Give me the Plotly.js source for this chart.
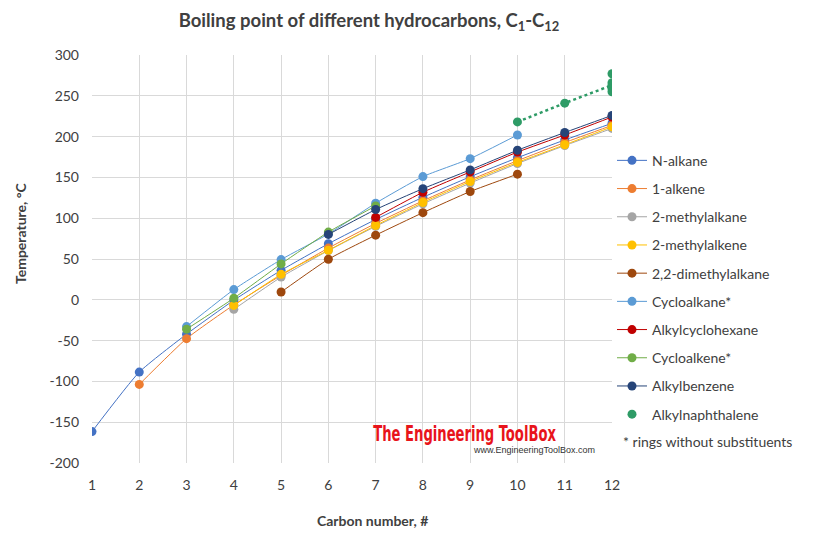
<!DOCTYPE html>
<html><head><meta charset="utf-8">
<script src="https://cdn.plot.ly/plotly-3.0.1.min.js"></script>
<style>html,body{margin:0;padding:0;background:#fff}</style>
</head><body><div id="chart" style="width:833px;height:535px"></div>
<script>
const carbonNumbers = [1,2,3,4,5,6,7,8,9,10,11,12];
const xTickLabels = ['1','2','3','4','5','6','7','8','9','10','11','12'];
const yTickValues = [-200,-150,-100,-50,0,50,100,150,200,250,300];
const yTickLabels = ['-200','-150','-100','-50','0','50','100','150','200','250','300'];

const nAlkaneX = [1,2,3,4,5,6,7,8,9,10,11,12];
const nAlkaneY = [-161.5,-88.6,-42.1,-0.5,36.1,68.7,98.4,125.6,150.8,174.1,195.9,216.3];
const alkeneX = [2,3,4,5,6,7,8,9,10,11,12];
const alkeneY = [-103.7,-47.6,-6.3,30.0,63.4,93.6,121.3,146.9,170.5,192.7,213.8];
const methylAlkaneX = [4,5,6,7,8,9,10,11,12];
const methylAlkaneY = [-11.7,27.8,60.3,90.0,117.6,143.0,167.0,189.0,210.0];
const methylAlkeneX = [4,5,6,7,8,9,10,11,12];
const methylAlkeneY = [-6.9,31.2,60.7,91.1,119.3,145.0,168.4,190.0,212.0];
const dimethylAlkaneX = [5,6,7,8,9,10];
const dimethylAlkaneY = [9.5,49.7,79.2,106.8,132.7,154.0];
const cycloalkaneX = [3,4,5,6,7,8,9,10];
const cycloalkaneY = [-32.8,12.5,49.3,80.7,118.4,151.0,173.0,202.0];
const alkylCyclohexaneX = [7,8,9,10,11,12];
const alkylCyclohexaneY = [101.0,131.8,156.7,181.0,202.0,224.0];
const cycloalkeneX = [3,4,5,6,7];
const cycloalkeneY = [-36.0,2.0,44.0,83.0,115.0];
const alkylbenzeneX = [6,7,8,9,10,11,12];
const alkylbenzeneY = [80.1,110.6,136.2,159.2,183.3,205.0,226.0];
const naphthaleneX = [10,11,12,12,12,12,12];
const naphthaleneY = [218,241,277,266,263,259,255];
const naphTrendX = [10,11,12];
const naphTrendY = [218,241,263];

const seriesNames = ['N-alkane','1-alkene','2-methylalkane','2-methylalkene','2,2-dimethylalkane','Cycloalkane*','Alkylcyclohexane','Cycloalkene*','Alkylbenzene','Alkylnaphthalene'];
const seriesColors = ['#4472C4','#ED7D31','#A5A5A5','#FFC000','#9E480E','#5B9BD5','#C00000','#70AD47','#264478','#2E9B66'];
const seriesX = [nAlkaneX,alkeneX,methylAlkaneX,methylAlkeneX,dimethylAlkaneX,cycloalkaneX,alkylCyclohexaneX,cycloalkeneX,alkylbenzeneX,naphthaleneX];
const seriesY = [nAlkaneY,alkeneY,methylAlkaneY,methylAlkeneY,dimethylAlkaneY,cycloalkaneY,alkylCyclohexaneY,cycloalkeneY,alkylbenzeneY,naphthaleneY];

const traces = [];
traces.push({x: naphTrendX, y: naphTrendY, mode:'lines', showlegend:false, hoverinfo:'skip',
  line:{color:'#2E9B66', width:2.5, dash:'dot'}});
for (let i=0;i<seriesNames.length;i++){
  const isNaph = i===9;
  traces.push({
    x: seriesX[i], y: seriesY[i], name: seriesNames[i], legendgroup:'g'+i,
    mode: isNaph ? 'markers' : 'lines+markers',
    line:{color:seriesColors[i], width:1, shape:'spline', smoothing:0.5},
    marker:{color:seriesColors[i], size:9}
  });
}

const fontFam = 'Lato, "Open Sans", sans-serif';
const layout = {
  width:833, height:535,
  margin:{l:92, r:221, t:55, b:72},
  paper_bgcolor:'#fff', plot_bgcolor:'#fff',
  font:{family:fontFam, color:'#404040', size:14},
  title:{text:'<b>Boiling point of different hydrocarbons, C<sub>1</sub>-C<sub>12</sub></b>',
    x:369/833, xanchor:'center', y:0.962, yanchor:'middle', font:{size:18.5, color:'#404040', family:fontFam}},
  xaxis:{range:[1,12], tickvals:carbonNumbers, ticktext:xTickLabels, showgrid:true, gridcolor:'#D9D9D9', gridwidth:1,
    zeroline:false, showline:false, ticks:'', ticklabelstandoff:12,
    tickfont:{size:14, color:'#404040'}},
  yaxis:{range:[-200,300], tickvals:yTickValues, ticktext:yTickLabels, showgrid:true, gridcolor:'#D9D9D9', gridwidth:1, zeroline:false, showline:false,
    ticks:'', ticklabelstandoff:12, tickfont:{size:14, color:'#404040'}},
  legend:{x:1.0, xanchor:'left', y:0.78, yanchor:'top', font:{size:14, color:'#404040'},
    tracegroupgap:7, bgcolor:'rgba(0,0,0,0)', itemwidth:30},
  showlegend:true,
  annotations:[
    {xref:'paper', yref:'paper', x:(372-92)/520, y:(463-520)/408, xanchor:'center', yanchor:'middle', showarrow:false,
     text:'<b>Carbon number, #</b>', font:{size:14, color:'#404040'}},
    {xref:'paper', yref:'paper', x:(20-92)/520, y:(463-233)/408, xanchor:'center', yanchor:'middle', showarrow:false, textangle:-90,
     text:'<b>Temperature, °C</b>', font:{size:14, color:'#404040'}},
    {xref:'paper', yref:'paper', x:1.018, y:0.052, xanchor:'left', yanchor:'middle', showarrow:false,
     text:'* rings without substituents', font:{size:14, color:'#404040'}},
    {xref:'paper', yref:'paper', x:(464-92)/520, y:(463-433)/408, xanchor:'center', yanchor:'middle', showarrow:false,
     text:'<b>The Engineering ToolBox</b>', font:{size:22, color:'#E8141B', family:'"Liberation Sans Narrow", "DejaVu Sans Condensed", sans-serif'}},
    {xref:'paper', yref:'paper', x:(597-92)/520, y:(463-450)/408, xanchor:'right', yanchor:'middle', showarrow:false,
     text:'www.EngineeringToolBox.com', font:{size:9, color:'#333', family:'"Liberation Sans", Arial, sans-serif'}}
  ]
};
Plotly.newPlot('chart', traces, layout, {displayModeBar:false, staticPlot:true}).then(function(){
  const texts = document.querySelectorAll('.annotation-text');
  texts.forEach(function(t){
    if (t.textContent.indexOf('The Engineering ToolBox') === 0) {
      const bb = t.getBBox();
      const s = 183 / bb.width;
      const cx = bb.x + bb.width / 2;
      t.setAttribute('transform', 'translate(' + cx + ',0) scale(' + s + ',1) translate(' + (-cx) + ',0)');
    }
  });
});
</script></body></html>
